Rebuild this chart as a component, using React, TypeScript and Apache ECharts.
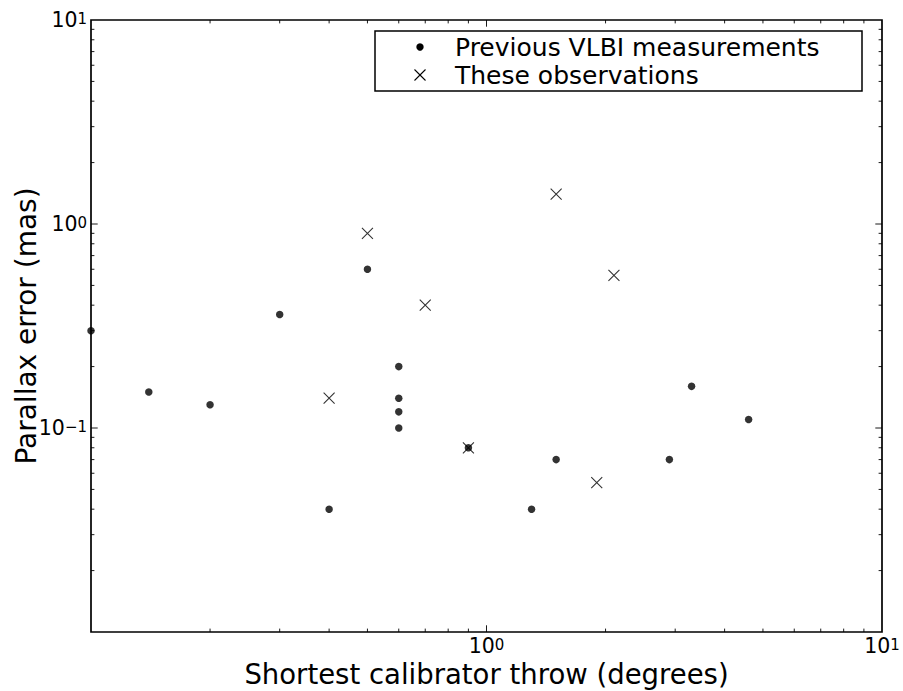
import React, { useEffect, useRef } from "react";
import * as echarts from "echarts";

// ---- data ----
const prevX = [0.1, 0.14, 0.2, 0.3, 0.4, 0.5, 0.6, 0.6, 0.6, 0.6, 0.9, 1.3, 1.5, 2.9, 3.3, 4.6];
const prevY = [0.3, 0.15, 0.13, 0.36, 0.04, 0.6, 0.2, 0.14, 0.12, 0.1, 0.08, 0.04, 0.07, 0.07, 0.16, 0.11];
const obsX = [0.4, 0.5, 0.7, 0.9, 1.5, 2.1, 1.9];
const obsY = [0.14, 0.9, 0.4, 0.08, 1.4, 0.56, 0.054];

const seriesNames = ["Previous VLBI measurements", "These observations"];
const xTitle = "Shortest calibrator throw (degrees)";
const yTitle = "Parallax error (mas)";

// axis extents / tick structure
const xMin = 0.1;
const xMax = 10;
const yMin = 0.01;
const yMax = 10;
const xDecades = [0.1, 1];
const yDecades = [0.01, 0.1, 1];
const minorMultipliers = [2, 3, 4, 5, 6, 7, 8, 9];
const xMajorInner = [1];
const yMajorInner = [0.1, 1];
const xLabelExps = [0, 1];
const yLabelExps = [-1, 0, 1];

const FONT = '"DejaVu Sans", "Bitstream Vera Sans", sans-serif';

function supLabel(shown: number[]) {
  return (v: number) => {
    const e = Math.round(Math.log10(v));
    if (!shown.includes(e)) return "";
    const es = e < 0 ? "\u2212" + Math.abs(e) : String(e);
    return `{b|10}{s|${es}}`;
  };
}

const richLabel = {
  b: { fontSize: 20.5, fontFamily: FONT, color: "#000", lineHeight: 18, verticalAlign: "middle" },
  s: { fontSize: 15, fontFamily: FONT, color: "#000", lineHeight: 6, verticalAlign: "top" },
};

export default function App() {
  const ref = useRef<HTMLDivElement>(null);

  useEffect(() => {
    if (!ref.current) return;
    const chart = echarts.init(ref.current, undefined, { renderer: "svg" });

    const tickData: number[][] = [];
    xDecades.forEach((d) => minorMultipliers.forEach((m) => tickData.push([d * m, 1, 0, 0])));
    yDecades.forEach((d) => minorMultipliers.forEach((m) => tickData.push([1, d * m, 1, 0])));
    xMajorInner.forEach((v) => tickData.push([v, 1, 0, 1]));
    yMajorInner.forEach((v) => tickData.push([1, v, 1, 1]));

    const option: any = {
      animation: false,
      backgroundColor: "#fff",
      textStyle: { fontFamily: FONT },
      grid: {
        left: 91,
        right: 21,
        top: 20,
        bottom: 59,
        show: true,
        borderColor: "#000",
        borderWidth: 1.7,
        backgroundColor: "transparent",
        outerBoundsMode: "none",
      },
      xAxis: {
        type: "log",
        logBase: 10,
        min: xMin,
        max: xMax,
        axisLine: { show: false },
        axisTick: { show: false },
        splitLine: { show: false },
        minorTick: { show: false },
        axisLabel: {
          show: true,
          margin: 5,
          showMinLabel: true,
          showMaxLabel: true,
          formatter: supLabel(xLabelExps),
          rich: richLabel,
        },
        name: xTitle,
        nameLocation: "middle",
        nameGap: 30,
        nameMoveOverlap: false,
        nameTextStyle: { fontSize: 27.5, lineHeight: 24, fontFamily: FONT, color: "#000" },
      },
      yAxis: {
        type: "log",
        logBase: 10,
        min: yMin,
        max: yMax,
        axisLine: { show: false },
        axisTick: { show: false },
        splitLine: { show: false },
        minorTick: { show: false },
        axisLabel: {
          show: true,
          margin: 4,
          showMinLabel: true,
          showMaxLabel: true,
          formatter: supLabel(yLabelExps),
          rich: richLabel,
        },
        name: yTitle,
        nameLocation: "middle",
        nameGap: 51,
        nameMoveOverlap: false,
        nameTextStyle: { fontSize: 28, fontFamily: FONT, color: "#000" },
      },
      series: [
        {
          type: "custom",
          name: "ticks",
          silent: true,
          clip: false,
          z: 3,
          encode: { x: 0, y: 1 },
          data: tickData,
          renderItem: (params: any, api: any) => {
            const cs = params.coordSys;
            const isY = api.value(2) === 1;
            const len = api.value(3) === 1 ? 6.7 : 3.4;
            const style = { stroke: "#000", lineWidth: 0.9 };
            if (!isY) {
              const x = api.coord([api.value(0), 1])[0];
              return {
                type: "group",
                children: [
                  { type: "line", shape: { x1: x, y1: cs.y + cs.height, x2: x, y2: cs.y + cs.height - len }, style },
                  { type: "line", shape: { x1: x, y1: cs.y, x2: x, y2: cs.y + len }, style },
                ],
              };
            }
            const y = api.coord([1, api.value(1)])[1];
            return {
              type: "group",
              children: [
                { type: "line", shape: { x1: cs.x, y1: y, x2: cs.x + len, y2: y }, style },
                { type: "line", shape: { x1: cs.x + cs.width, y1: y, x2: cs.x + cs.width - len, y2: y }, style },
              ],
            };
          },
        },
        {
          type: "scatter",
          name: seriesNames[0],
          symbol: "circle",
          symbolSize: 7.5,
          itemStyle: { color: "#000" },
          z: 4,
          data: prevX.map((x, i) => [x, prevY[i]]),
        },
        {
          type: "scatter",
          name: seriesNames[1],
          symbol: "path://M0,0L10,10M0,10L10,0",
          symbolSize: 11,
          itemStyle: { color: "transparent", borderColor: "#000", borderWidth: 1.1 },
          z: 5,
          data: obsX.map((x, i) => [x, obsY[i]]),
        },
      ],
      graphic: [
        {
          type: "group",
          z: 100,
          children: [
            {
              type: "rect",
              shape: { x: 375, y: 31, width: 487, height: 60 },
              style: { fill: "#fff", stroke: "#000", lineWidth: 1.5 },
            },
            {
              type: "circle",
              shape: { cx: 420, cy: 47, r: 3.7 },
              style: { fill: "#000" },
            },
            {
              type: "line",
              shape: { x1: 414.5, y1: 69.5, x2: 425.5, y2: 80.5 },
              style: { stroke: "#000", lineWidth: 1.1 },
            },
            {
              type: "line",
              shape: { x1: 414.5, y1: 80.5, x2: 425.5, y2: 69.5 },
              style: { stroke: "#000", lineWidth: 1.1 },
            },
            {
              type: "text",
              x: 455,
              y: 47,
              style: { text: seriesNames[0], fontSize: 25, fontFamily: FONT, fill: "#000", verticalAlign: "middle" },
            },
            {
              type: "text",
              x: 455,
              y: 75,
              style: { text: seriesNames[1], fontSize: 25, fontFamily: FONT, fill: "#000", verticalAlign: "middle" },
            },
          ],
        },
      ],
    };

    chart.setOption(option);
    return () => chart.dispose();
  }, []);

  return (
    <div
      ref={ref}
      style={{ position: "absolute", left: 0, top: 0, width: 903, height: 691, background: "#fff" }}
    />
  );
}
